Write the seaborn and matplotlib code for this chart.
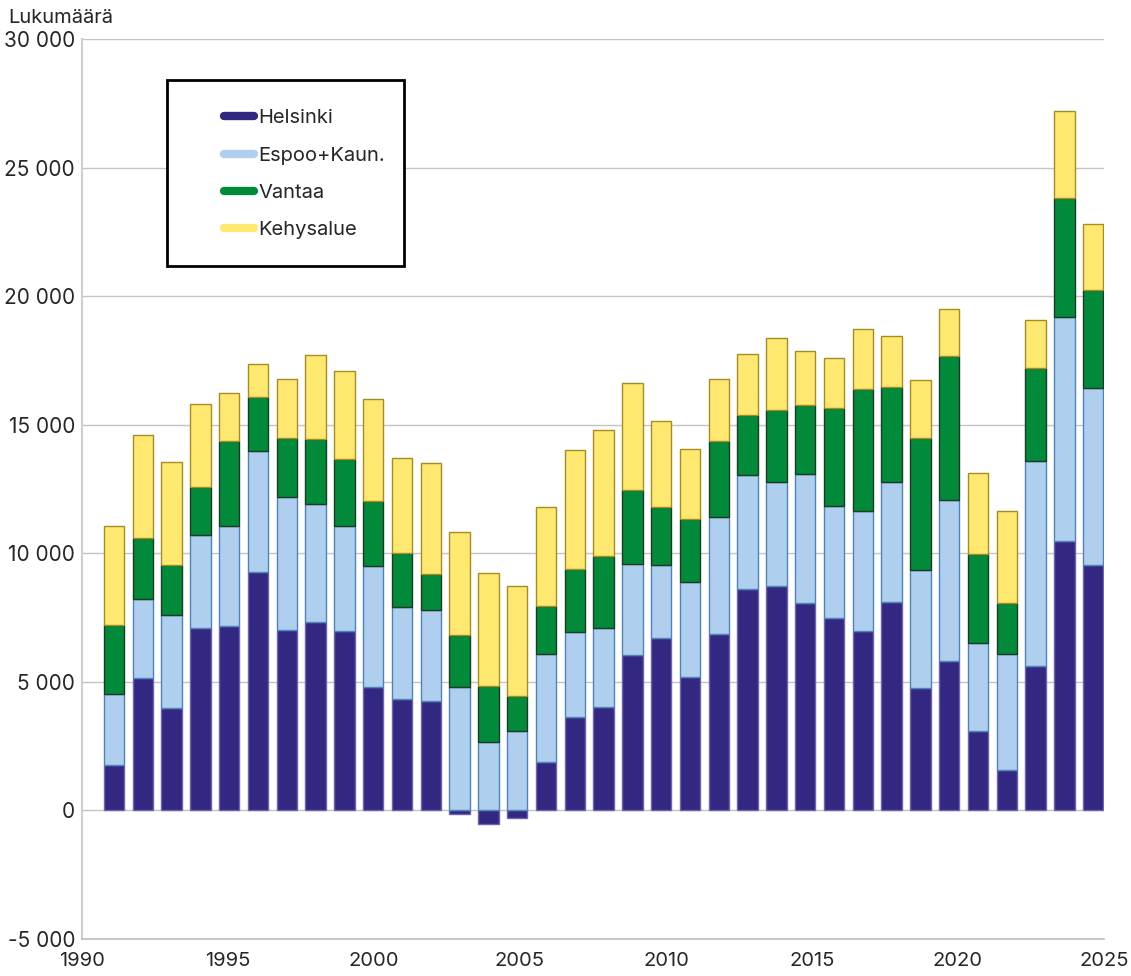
import numpy as np
import pandas as pd
import matplotlib
matplotlib.use("Agg")
import matplotlib.pyplot as plt
import seaborn as sns
from matplotlib.lines import Line2D
from matplotlib.patches import Rectangle
from matplotlib.ticker import FuncFormatter

# Values
years = list(range(1991, 2026))
helsinki = [1780, 5140, 3970, 7090, 7180, 9270, 7020, 7320, 6960, 4800,
            4350, 4250, -150, -520, -280, 1880, 3640, 4030, 6050, 6720,
            5200, 6850, 8600, 8710, 8050, 7490, 6980, 8090, 4760, 5810,
            3090, 1555, 5600, 10490, 9550]
espoo = [2730, 3090, 3650, 3610, 3880, 4720, 5165, 4600, 4120, 4710,
         3570, 3550, 4800, 2670, 3080, 4210, 3310, 3050, 3520, 2820,
         3700, 4550, 4455, 4080, 5030, 4360, 4670, 4670, 4575, 6250,
         3420, 4520, 7975, 8700, 6870]
vantaa = [2700, 2355, 1940, 1870, 3290, 2090, 2300, 2515, 2570, 2530,
          2090, 1390, 2020, 2165, 1390, 1850, 2425, 2805, 2890, 2250,
          2430, 2955, 2315, 2795, 2700, 3800, 4735, 3690, 5140, 5620,
          3470, 1990, 3635, 4645, 3815]
kehys = [3850, 4015, 3990, 3225, 1890, 1300, 2275, 3277, 3425, 3970,
         3690, 4310, 3990, 4400, 4260, 3855, 4645, 4905, 4175, 3345,
         2745, 2410, 2370, 2795, 2090, 1930, 2330, 2010, 2260, 1805,
         3145, 3580, 1860, 3380, 2570]

series = ["Helsinki", "Espoo+Kaun.", "Vantaa", "Kehysalue"]
colors = ["#322882", "#afcfee", "#008a3a", "#ffe86f"]
edges = ["#6d64ad", "#4f84ba", "#1c3a24", "#a38e24"]
tick_years = [1990, 1995, 2000, 2005, 2010, 2015, 2020, 2025]

df = pd.DataFrame({"year": [str(y) for y in years],
                   "Helsinki": helsinki, "Espoo+Kaun.": espoo,
                   "Vantaa": vantaa, "Kehysalue": kehys})

sns.set_style("white")
plt.rcParams["font.family"] = ["Inter", "DejaVu Sans"]

fig = plt.figure(figsize=(11.31, 9.76), dpi=100)
ax = fig.add_axes([0.0725, 0.0379, 0.9036, 0.9221])

# stacked bars: positives stack upwards from 0, negatives downwards
pos_bottom = np.zeros(len(years))
neg_bottom = np.zeros(len(years))
for name, col, ec in zip(series, colors, edges):
    vals = df[name].to_numpy(dtype=float)
    bottom = np.where(vals >= 0, pos_bottom, neg_bottom)
    sns.barplot(data=df, x="year", y=name, color=col, width=0.71,
                bottom=bottom, edgecolor=ec, linewidth=1.0,
                saturation=1, errorbar=None, ax=ax, zorder=3)
    pos_bottom += np.where(vals >= 0, vals, 0)
    neg_bottom += np.where(vals < 0, vals, 0)

# axis layout
left, right = -1.11, 34.375
ax.set_xlim(left, right)
ax.set_ylim(-5000, 30000)
tick_pos = [left + (y - 1990) / 35 * (right - left) for y in tick_years]
ax.set_xticks(tick_pos)
ax.set_xticklabels([str(y) for y in tick_years], fontsize=14.5)
ax.set_yticks(range(-5000, 30001, 5000))
ax.yaxis.set_major_formatter(FuncFormatter(lambda v, p: f"{int(v):,}".replace(",", " ")))
ax.tick_params(axis="y", labelsize=15, length=0, pad=5)
ax.tick_params(axis="x", length=0, pad=9)
ax.set_xlabel("")
ax.set_ylabel("")
ax.grid(axis="y", color="#c4c4c4", linewidth=1.0, zorder=0)
ax.set_axisbelow(True)
for s in ["top", "right"]:
    ax.spines[s].set_visible(False)
ax.spines["left"].set_color("#cfcfcf")
ax.spines["left"].set_linewidth(1.5)
ax.spines["bottom"].set_color("#bdbdbd")
ax.spines["bottom"].set_linewidth(1.2)

fig.text(0.007, 0.982, "Lukumäärä", fontsize=14.5, ha="left", va="center")

# legend with a plain black box
ax.add_patch(Rectangle((0.083, 0.748), 0.232, 0.206, transform=ax.transAxes,
                       fill=True, facecolor="white", edgecolor="black",
                       linewidth=2, zorder=5))
handles = [Line2D([0], [0], color=c, lw=6, solid_capstyle="round") for c in colors]
leg = ax.legend(handles, series, loc="upper left", bbox_to_anchor=(0.139, 0.922),
                frameon=False, fontsize=14.5, handlelength=1.5, handletextpad=0.2,
                labelspacing=0.95, borderpad=0, borderaxespad=0)
leg.set_zorder(6)

fig.savefig("out.png", dpi=100)
